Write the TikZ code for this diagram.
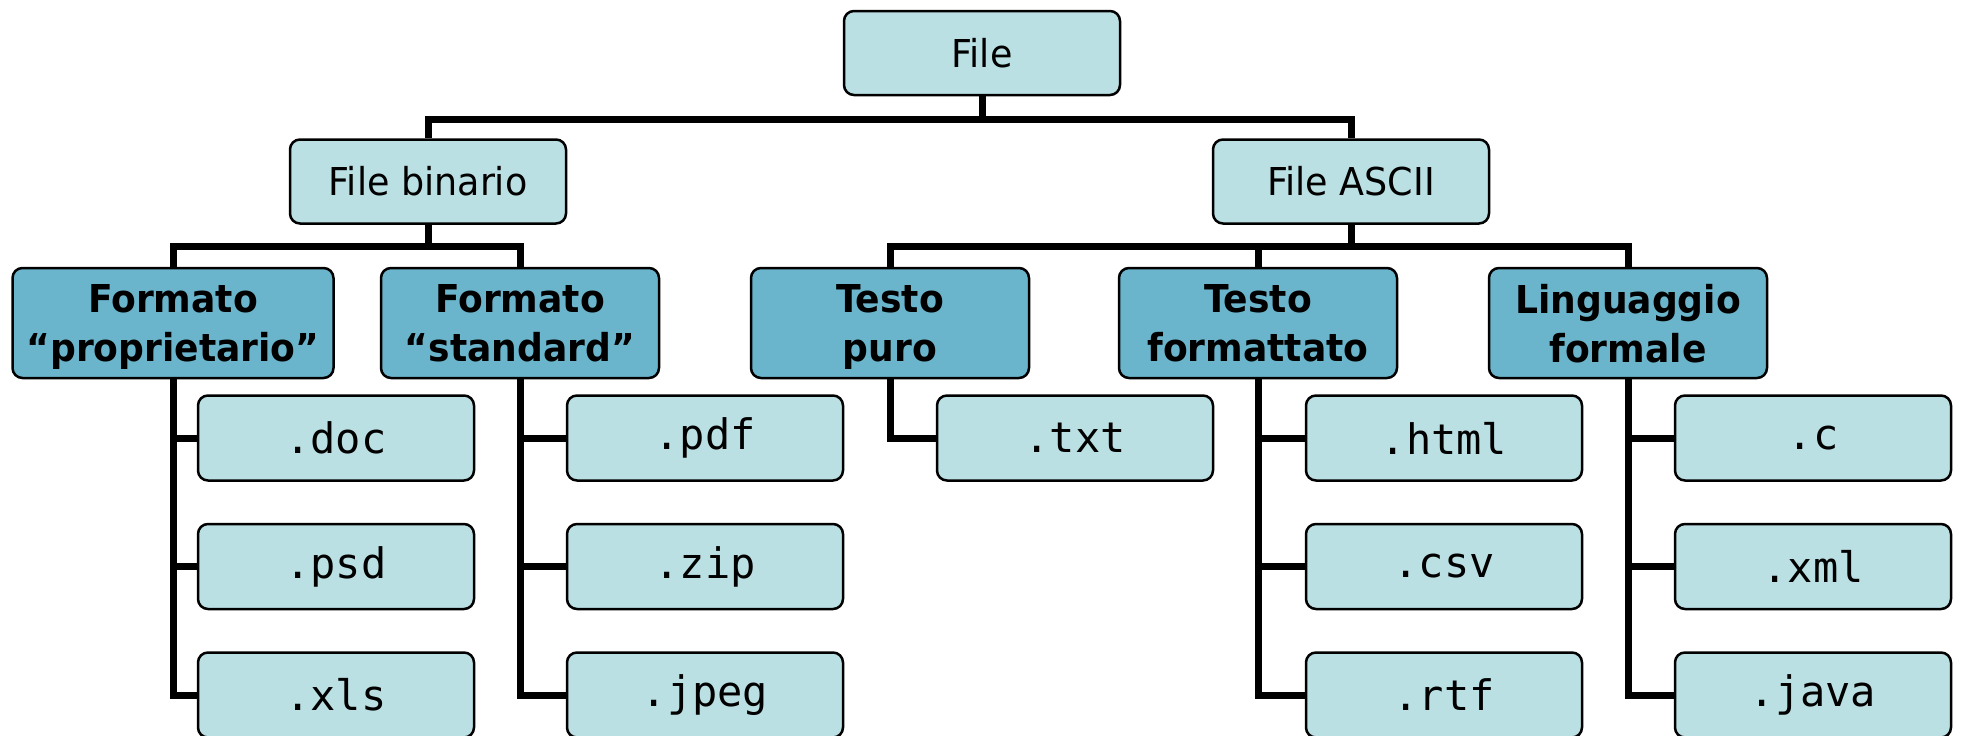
\documentclass[tikz,border=0pt]{standalone}
\usepackage{fontspec}
\setmainfont{DejaVu Sans}[FakeStretch=0.95, BoldFeatures={FakeStretch=0.94}]
\setmonofont{DejaVu Sans Mono}
\usetikzlibrary{backgrounds}
\definecolor{lightbox}{RGB}{186,224,228}
\definecolor{darkbox}{RGB}{106,181,204}
\tikzset{
  boxbase/.style={draw=black, line width=1.25pt, rounded corners=5pt, inner sep=0pt},
  topbox/.style={boxbase, fill=lightbox, minimum width=138pt, minimum height=42pt,
    font=\fontsize{19.2}{24}\selectfont},
  catbox/.style={boxbase, fill=darkbox, minimum width=139pt, minimum height=55pt,
    align=center, text depth=0pt, font=\fontsize{19.2}{24.5}\selectfont\bfseries},
  extbox/.style={boxbase, fill=lightbox, minimum width=138pt, minimum height=42.5pt,
    font=\fontsize{21}{24}\ttfamily},
  link/.style={line width=3.5pt, black, line cap=butt, line join=miter}
}
\begin{document}
\begin{tikzpicture}[x=0.5pt, y=-0.5pt]
\useasboundingbox (0,0) rectangle (1961,735);
\clip (0,0) rectangle (1961,735);

% root and first level
\node[topbox] (file) at (982,53) {File};
\node[topbox] (bin) at (428,181.5) {File binario};
\node[topbox] (ascii) at (1351,181.5) {File ASCII};

% categories
\node[catbox, minimum width=160.5pt] (prop) at (173,323) {Formato\\“proprietario”};
\node[catbox] (std) at (520,323) {Formato\\“standard”};
\node[catbox] (puro) at (890,323) {Testo\\puro};
\node[catbox] (fmt) at (1258,323) {Testo\\formattato};
\node[catbox] (ling) at (1628,323) {Linguaggio\\formale};

% extensions
\node[extbox] (doc) at (336,438) {.doc};
\node[extbox] (psd) at (336,566.5) {.psd};
\node[extbox] (xls) at (336,695) {.xls};
\node[extbox] (pdf) at (705,438) {.pdf};
\node[extbox] (zip) at (705,566.5) {.zip};
\node[extbox] (jpeg) at (705,695) {.jpeg};
\node[extbox] (txt) at (1075,438) {.txt};
\node[extbox] (html) at (1444,438) {.html};
\node[extbox] (csv) at (1444,566.5) {.csv};
\node[extbox] (rtf) at (1444,695) {.rtf};
\node[extbox] (c) at (1813,438) {.c};
\node[extbox] (xml) at (1813,566.5) {.xml};
\node[extbox] (java) at (1813,695) {.java};

\begin{scope}[on background layer]
  % tree branches
  \foreach \child in {bin,ascii}
    \draw[link] (file.south) -- ++(0,23) -| (\child.north);
  \foreach \child in {prop,std}
    \draw[link] (bin.south) -- ++(0,22) -| (\child.north);
  \foreach \child in {puro,fmt,ling}
    \draw[link] (ascii.south) -- ++(0,22) -| (\child.north);
  % extension lists
  \foreach \child in {doc,psd,xls}
    \draw[link] (prop.south) |- (\child.west);
  \foreach \child in {pdf,zip,jpeg}
    \draw[link] (std.south) |- (\child.west);
  \draw[link] (puro.south) |- (txt.west);
  \foreach \child in {html,csv,rtf}
    \draw[link] (fmt.south) |- (\child.west);
  \foreach \child in {c,xml,java}
    \draw[link] (ling.south) |- (\child.west);
\end{scope}
\end{tikzpicture}
\end{document}
